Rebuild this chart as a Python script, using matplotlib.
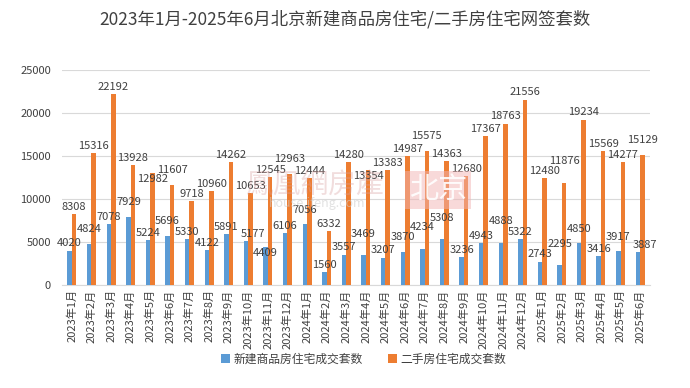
import matplotlib.pyplot as plt
import numpy as np

plt.rcParams['font.family'] = ['Noto Sans CJK SC', 'DejaVu Sans']

# 数据
months = ['2023年1月', '2023年2月', '2023年3月', '2023年4月', '2023年5月', '2023年6月',
          '2023年7月', '2023年8月', '2023年9月', '2023年10月', '2023年11月', '2023年12月',
          '2024年1月', '2024年2月', '2024年3月', '2024年4月', '2024年5月', '2024年6月',
          '2024年7月', '2024年8月', '2024年9月', '2024年10月', '2024年11月', '2024年12月',
          '2025年1月', '2025年2月', '2025年3月', '2025年4月', '2025年5月', '2025年6月']
new_homes = [4020, 4824, 7078, 7929, 5224, 5696, 5330, 4122, 5891, 5177, 4409, 6106,
             7056, 1560, 3557, 3469, 3207, 3870, 4234, 5308, 3236, 4943, 4888, 5322,
             2743, 2295, 4850, 3416, 3917, 3887]
second_hand = [8308, 15316, 22192, 13928, 12982, 11607, 9718, 10960, 14262, 10653, 12545, 12963,
               12444, 6332, 14280, 13354, 13383, 14987, 15575, 14363, 12680, 17367, 18763, 21556,
               12480, 11876, 19234, 15569, 14277, 15129]

blue = '#5B9BD5'
orange = '#ED7D31'
text_c = '#404040'

fig = plt.figure(figsize=(6.9, 3.88), dpi=100)
ax = fig.add_axes([0.09, 0.265, 0.852, 0.555])

x = np.arange(len(months))
w = 0.23
ax.bar(x - w / 2, new_homes, w, color=blue, label='新建商品房住宅成交套数', zorder=3)
ax.bar(x + w / 2, second_hand, w, color=orange, label='二手房住宅成交套数', zorder=3)

# 水印
fig.text(0.355, 0.525, '鳳凰網房產', fontsize=20, color='#d9a0a0', alpha=0.35,
         ha='left', va='center', zorder=1)
fig.text(0.39, 0.475, 'house.ifeng.com', fontsize=9, color='#cfcfcf', alpha=0.6,
         ha='left', va='center', zorder=1)
fig.text(0.635, 0.51, '北京', fontsize=21, color='white', alpha=0.9, ha='center', va='center',
         bbox=dict(facecolor='#f2b4b4', edgecolor='none', alpha=0.5, pad=3), zorder=1)

# 数据标签
labels = []
for xi, v1, v2 in zip(x, new_homes, second_hand):
    for xp, v in ((xi - w / 2, v1), (xi + w / 2, v2)):
        t = ax.annotate(str(v), (xp, v), xytext=(0, 1.5), textcoords='offset points',
                        ha='center', va='bottom', fontsize=8, color=text_c, zorder=5)
        labels.append(t)

ax.set_ylim(0, 25000)
ax.set_xlim(-0.5, len(months) - 0.5)
ax.set_yticks(range(0, 25001, 5000))
ax.set_xticks(x)
ax.set_xticklabels(months, rotation=90, fontsize=8, color=text_c)
ax.tick_params(axis='y', labelsize=8, colors=text_c, length=0, pad=8)
ax.tick_params(axis='x', length=0, pad=3)
ax.grid(axis='y', color='#d9d9d9', linewidth=0.8, zorder=0)
for s in ['top', 'right', 'left']:
    ax.spines[s].set_visible(False)
ax.spines['bottom'].set_color('#d9d9d9')

# 避免标签互相重叠
fig.canvas.draw()
r = fig.canvas.get_renderer()
cands = [(0, 1.5), (3, 1.5), (0, 7), (0, 12), (-5, 1.5), (5, 1.5), (-5, 7), (5, 7),
         (0, -8), (0, 17), (0, -14)]
placed = [tl.get_window_extent(r).expanded(1.1, 1.0) for tl in ax.get_yticklabels()]
for t in labels:
    for c in cands:
        t.xyann = c
        bb = t.get_window_extent(r).expanded(1.0, 0.85)
        if not any(bb.overlaps(p) for p in placed):
            break
    placed.append(t.get_window_extent(r).expanded(1.0, 0.85))

fig.suptitle('2023年1月-2025年6月北京新建商品房住宅/二手房住宅网签套数', fontsize=12.5,
             color=text_c, y=0.975)
fig.legend(loc='lower center', bbox_to_anchor=(0.527, 0.03), ncol=2, frameon=False,
           fontsize=8.5, handlelength=0.7, handleheight=0.7, columnspacing=2.2,
           handletextpad=0.3, labelcolor=text_c)

plt.savefig('out.png', dpi=100)
